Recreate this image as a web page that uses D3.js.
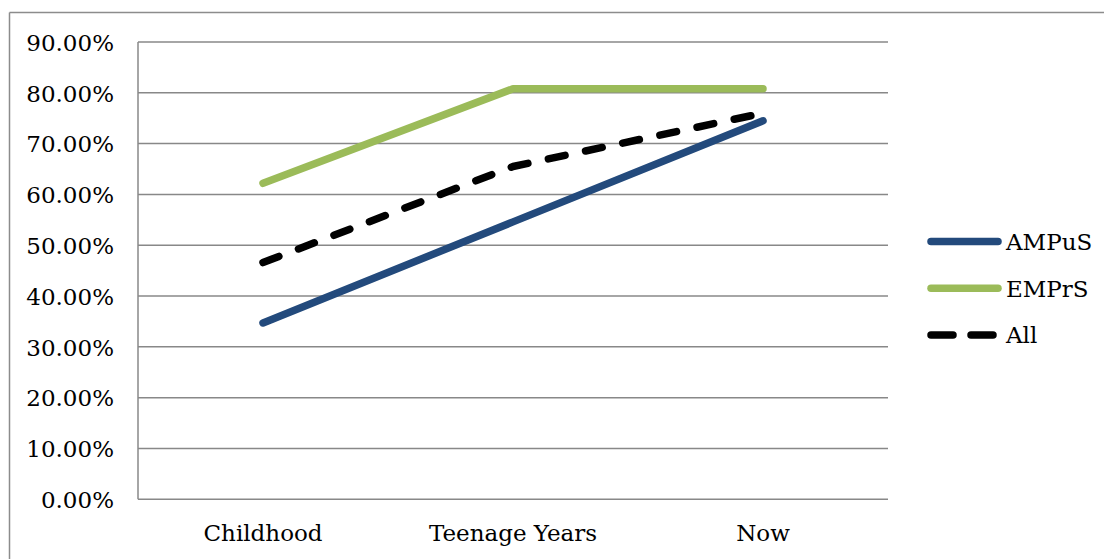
<!DOCTYPE html>
<html>
<head>
<meta charset="utf-8">
<script src="https://cdn.jsdelivr.net/npm/d3@7"></script>
<style>
  html, body { margin: 0; padding: 0; background: #fff; }
  svg { display: block; }
  text { font-family: "DejaVu Serif", "Liberation Serif", serif; fill: #000; }
</style>
</head>
<body>
<svg id="chart" width="1104" height="559"></svg>
<script>
// Share of respondents per life stage, by group
const stages = ["Childhood", "Teenage Years", "Now"];
const ampus = [0.347, 0.546, 0.745];
const emprs = [0.622, 0.808, 0.808];
const all   = [0.466, 0.655, 0.760];
const yTicks = [0, 0.1, 0.2, 0.3, 0.4, 0.5, 0.6, 0.7, 0.8, 0.9];

const seriesList = [
  { name: "AMPuS", values: ampus, color: "#234A7C", dash: null },
  { name: "EMPrS", values: emprs, color: "#9BBB59", dash: null },
  { name: "All",   values: all,   color: "#000000", dash: "17,21" }
];

const FONT_SIZE = "23px";
const svg = d3.select("#chart");
const plot = { left: 138, right: 888, top: 42, bottom: 499.3 };

// outer chart frame (top and left edges visible in the frame)
svg.append("line").attr("x1", 9.5).attr("x2", 1104).attr("y1", 12.5).attr("y2", 12.5)
  .attr("stroke", "#8c8c8c").attr("stroke-width", 1.5);
svg.append("line").attr("x1", 9.5).attr("x2", 9.5).attr("y1", 12.5).attr("y2", 559)
  .attr("stroke", "#8c8c8c").attr("stroke-width", 1.5);

const x = d3.scaleBand().domain(stages).range([plot.left, plot.right]);
const y = d3.scaleLinear().domain([0, 0.9]).range([plot.bottom, plot.top]);

// gridlines
svg.append("g").selectAll("line").data(yTicks).join("line")
  .attr("x1", plot.left).attr("x2", plot.right)
  .attr("y1", d => y(d)).attr("y2", d => y(d))
  .attr("stroke", "#888").attr("stroke-width", 1.5);

// vertical axis line
svg.append("line").attr("x1", plot.left).attr("x2", plot.left)
  .attr("y1", plot.top).attr("y2", plot.bottom)
  .attr("stroke", "#888").attr("stroke-width", 1.5);

// y axis labels
const yAxis = d3.axisLeft(y).tickValues(yTicks).tickSize(0).tickPadding(0)
  .tickFormat(d => (d * 100).toFixed(2) + "%");
const gy = svg.append("g").attr("transform", `translate(${plot.left - 24},0)`).call(yAxis);
gy.select(".domain").remove();
gy.selectAll("text").style("font-family", "DejaVu Serif, serif").style("font-size", FONT_SIZE)
  .attr("dy", "0.36em");

// x axis labels
const xAxis = d3.axisBottom(x).tickSize(0).tickPadding(0);
const gx = svg.append("g").attr("transform", `translate(0,${plot.bottom + 25})`).call(xAxis);
gx.select(".domain").remove();
gx.selectAll("text").style("font-family", "DejaVu Serif, serif").style("font-size", FONT_SIZE)
  .attr("dy", "0.71em");

// series lines
const line = d3.line()
  .x((d, i) => x(stages[i]) + x.bandwidth() / 2)
  .y(d => y(d));

seriesList.forEach(s => {
  svg.append("path").datum(s.values)
    .attr("d", line)
    .attr("fill", "none")
    .attr("stroke", s.color)
    .attr("stroke-width", 7.5)
    .attr("stroke-linecap", "round")
    .attr("stroke-linejoin", "round")
    .attr("stroke-dasharray", s.dash);
});

// legend
const legend = svg.append("g");
seriesList.forEach((s, i) => {
  const ly = 241.5 + i * 46.8;
  legend.append("line")
    .attr("x1", 931).attr("x2", 998).attr("y1", ly).attr("y2", ly)
    .attr("stroke", s.color).attr("stroke-width", 7.5)
    .attr("stroke-linecap", "round")
    .attr("stroke-dasharray", s.dash ? "22,18" : null);
  legend.append("text")
    .attr("x", 1006).attr("y", ly).attr("dy", "0.36em")
    .style("font-size", FONT_SIZE)
    .text(s.name);
});
</script>
</body>
</html>
